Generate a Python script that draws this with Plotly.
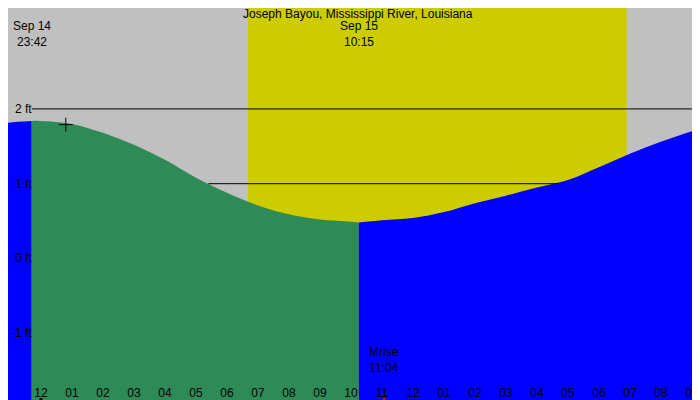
import plotly.graph_objects as go

# hours from Sep 15 00:00, tide height in ft
hours = [-1.1, -1, -0.3, 0, 1, 2, 3, 4, 5, 6, 7, 8, 9, 10, 10.25,
         11, 12, 13, 14, 15, 16, 17, 18, 19, 20, 21, 21.6]
heights = [1.81, 1.82, 1.84, 1.84, 1.80, 1.68, 1.52, 1.32, 1.08, 0.88, 0.71, 0.59, 0.52, 0.49, 0.48,
           0.51, 0.54, 0.62, 0.74, 0.84, 0.95, 1.05, 1.22, 1.40, 1.56, 1.70, 1.78]
high_t, low_t = -0.3, 10.25
sunrise, sunset = 6.68, 18.9
moonrise, moonset = 11.07, 21.45
ft_ticks = [-1, 0, 1, 2]
hour_ticks = list(range(-1, 22))
hour_labels = ['%02d' % (((h % 12) or 12)) for h in hour_ticks]
mean_seg = [5.4, 16.7]
marker_pt = (0.8, 1.79)

bottom = -2.05
x_rng = [-1.065, 21.52]
y_rng = [-2.0, 3.35]

def seg(a, b):
    xs = [h for h in hours if a <= h <= b]
    ys = [heights[hours.index(h)] for h in xs]
    return xs, ys

fig = go.Figure()
for (a, b), col in [((-2, high_t), '#0000ff'), ((high_t, low_t), '#2e8b57'), ((low_t, 30), '#0000ff')]:
    xs, ys = seg(a, b)
    fig.add_trace(go.Scatter(x=xs, y=[bottom] * len(xs), mode='lines', line=dict(width=0), hoverinfo='skip'))
    fig.add_trace(go.Scatter(x=xs, y=ys, mode='lines', line=dict(width=0, shape='spline'), fill='tonexty',
                             fillcolor=col, hoverinfo='skip'))

fig.add_trace(go.Scatter(x=[high_t, x_rng[1]], y=[2, 2], mode='lines', line=dict(color='black', width=1)))
fig.add_trace(go.Scatter(x=mean_seg, y=[1, 1], mode='lines', line=dict(color='black', width=1)))
fig.add_trace(go.Scatter(x=[marker_pt[0]], y=[marker_pt[1]], mode='markers',
                         marker=dict(symbol='cross-thin', size=10, line=dict(color='black', width=1))))
fig.add_trace(go.Scatter(x=[moonrise, moonset], y=[-1.95, -1.95], mode='markers',
                         marker=dict(symbol='line-ns', size=9, line=dict(color='red', width=2))))
fig.add_trace(go.Scatter(x=[0], y=[-1.95], mode='markers',
                         marker=dict(symbol='line-ns', size=9, line=dict(color='black', width=3))))

fig.add_vrect(x0=sunrise, x1=sunset, fillcolor='#cccc00', opacity=1, layer='below', line_width=0)

font = dict(family='Liberation Sans, Arial', size=12, color='black')
ann = [dict(x=0.5, xref='paper', y=1.005, yref='paper', yanchor='top', text='Joseph Bayou, Mississippi River, Louisiana', showarrow=False)]
ann.append(dict(x=high_t, y=0.975, yref='paper', yanchor='top', text='Sep 14<br>23:42', showarrow=False))
ann.append(dict(x=low_t, y=0.975, yref='paper', yanchor='top', text='Sep 15<br>10:15', showarrow=False))
ann.append(dict(x=moonrise, y=-1.15, yanchor='top', text='Mrise<br>11:04', showarrow=False))
ann.append(dict(x=moonset, y=-1.15, yanchor='top', text='Mset<br>21:27', showarrow=False))
for v in ft_ticks:
    ann.append(dict(x=0.035, xref='paper', xanchor='right', y=v, text='%d ft' % v, showarrow=False))
for a in ann:
    a.setdefault('font', font)
    a['borderpad'] = 0

fig.update_layout(
    width=700, height=400, autosize=False, margin=dict(l=0, r=0, t=0, b=0, pad=0),
    plot_bgcolor='#c0c0c0', paper_bgcolor='#c0c0c0', showlegend=False,
    annotations=ann, font=font,
    xaxis=dict(range=x_rng, showgrid=False, zeroline=False, tickvals=hour_ticks, ticktext=hour_labels,
               ticks='inside', ticklen=8, tickcolor='black', ticklabelposition='inside',
               tickfont=font, automargin=False),
    yaxis=dict(range=y_rng, showgrid=False, zeroline=False, showticklabels=False, automargin=False),
)
fig.write_html('out.html')
